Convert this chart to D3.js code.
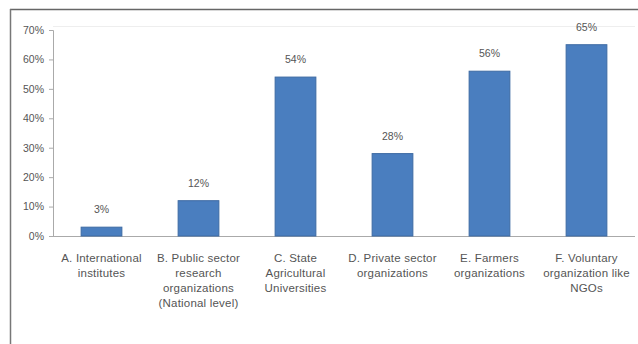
<!DOCTYPE html>
<html>
<head>
<meta charset="utf-8">
<script src="https://cdn.jsdelivr.net/npm/d3@7/dist/d3.min.js"></script>
<style>
  html, body { margin: 0; padding: 0; background: #fff; }
  svg { display: block; }
  text { font-family: "Liberation Sans", Arial, sans-serif; }
</style>
</head>
<body>
<svg id="chart" width="638" height="344"></svg>
<script>
// Share of respondents citing each source
const categories = [
  ["A. International", "institutes"],
  ["B. Public sector", "research", "organizations", "(National level)"],
  ["C. State", "Agricultural", "Universities"],
  ["D. Private sector", "organizations"],
  ["E. Farmers", "organizations"],
  ["F. Voluntary", "organization like", "NGOs"]
];
const values = [3, 12, 54, 28, 56, 65];
const yTicks = [0, 10, 20, 30, 40, 50, 60, 70];

const svg = d3.select("#chart");
const W = 638, H = 344;
const plot = { left: 53, right: 635, top: 30, bottom: 236 };

// Chart frame
svg.append("line").attr("x1", 10).attr("x2", W).attr("y1", 9.5).attr("y2", 9.5)
  .attr("stroke", "#666").attr("stroke-width", 1.5);
svg.append("line").attr("x1", 10.5).attr("x2", 10.5).attr("y1", 9).attr("y2", H)
  .attr("stroke", "#777").attr("stroke-width", 1.5);

const x = d3.scaleBand()
  .domain(d3.range(categories.length))
  .range([plot.left, plot.right])
  .paddingInner(0.58).paddingOuter(0.29);

const y = d3.scaleLinear().domain([0, 70]).range([plot.bottom, plot.top]);

// Faint top rule of the plot area
svg.append("line").attr("x1", plot.left).attr("x2", plot.right)
  .attr("y1", y(70) - 3.5).attr("y2", y(70) - 3.5)
  .attr("stroke", "#eee").attr("stroke-width", 1);

// Y axis
const yAxis = d3.axisLeft(y).tickValues(yTicks).tickFormat(d => d + "%").tickSize(4).tickPadding(5);
const gy = svg.append("g").attr("transform", `translate(${plot.left},0)`).call(yAxis);
gy.select(".domain").attr("stroke", "#aaa");
gy.selectAll(".tick line").attr("stroke", "#aaa");
gy.selectAll(".tick text").attr("fill", "#555").attr("font-size", 10.5);

// X axis baseline
svg.append("line").attr("x1", plot.left).attr("x2", plot.right)
  .attr("y1", plot.bottom + 0.5).attr("y2", plot.bottom + 0.5)
  .attr("stroke", "#aaa");

// Bars
svg.append("g").selectAll("rect").data(values).join("rect")
  .attr("x", (d, i) => x(i))
  .attr("y", d => y(d))
  .attr("width", x.bandwidth())
  .attr("height", d => plot.bottom - y(d))
  .attr("fill", "#4a7ebf")
  .attr("stroke", "#3d6aa3")
  .attr("stroke-width", 1);

// Value labels
svg.append("g").selectAll("text").data(values).join("text")
  .attr("x", (d, i) => x(i) + x.bandwidth() / 2)
  .attr("y", d => y(d) - 14)
  .attr("text-anchor", "middle")
  .attr("font-size", 10.5)
  .attr("fill", "#555")
  .text(d => d + "%");

// Category labels
const cat = svg.append("g").selectAll("text").data(categories).join("text")
  .attr("x", (d, i) => x(i) + x.bandwidth() / 2)
  .attr("y", 262)
  .attr("text-anchor", "middle")
  .attr("font-size", 11.5)
  .attr("letter-spacing", 0.2)
  .attr("fill", "#555");
cat.selectAll("tspan").data(d => d).join("tspan")
  .attr("x", function () { return d3.select(this.parentNode).attr("x"); })
  .attr("dy", (d, i) => i === 0 ? 0 : 15)
  .text(d => d);
</script>
</body>
</html>
